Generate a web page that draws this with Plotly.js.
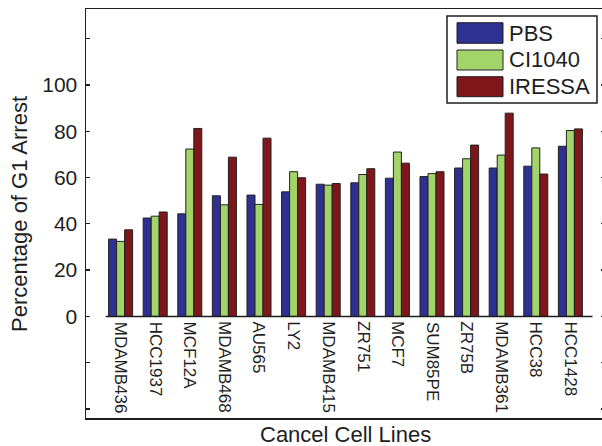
<!DOCTYPE html>
<html>
<head>
<meta charset="utf-8">
<script src="https://cdn.plot.ly/plotly-3.0.1.min.js"></script>
<style>
html, body { margin: 0; padding: 0; overflow: hidden; background: #fff; }
#chart { width: 606px; height: 446px; }
</style>
</head>
<body>
<div id="chart"></div>
<script>
// ---- data ----
var cellLines = ["MDAMB436", "HCC1937", "MCF12A", "MDAMB468", "AU565", "LY2", "MDAMB415",
                 "ZR751", "MCF7", "SUM85PE", "ZR75B", "MDAMB361", "HCC38", "HCC1428"];
var seriesNames = ["PBS", "CI1040", "IRESSA"];
var pbs    = [33.4, 42.5, 44.3, 52.1, 52.4, 53.8, 57.1, 57.7, 59.7, 60.4, 64.1, 64.1, 64.9, 73.5];
var ci1040 = [32.4, 43.3, 72.3, 48.2, 48.4, 62.5, 56.7, 61.3, 71.0, 61.7, 68.1, 69.7, 72.8, 80.3];
var iressa = [37.4, 45.1, 81.2, 68.8, 77.0, 59.9, 57.4, 63.8, 66.2, 62.5, 74.0, 87.8, 61.5, 81.0];
var yTickVals = [-40, -20, 0, 20, 40, 60, 80, 100, 120];
var yTickText = ["", "", "0", "20", "40", "60", "80", "100", ""];
var yTitle = "Percentage of G1 Arrest";
var xTitle = "Cancel Cell Lines";

// ---- styling ----
var colors = ["#2E3192", "#A3D46A", "#7F1619"];
var values = [pbs, ci1040, iressa];
var FONT = "Liberation Sans, Arial, Helvetica, sans-serif";
var INK = "#1e1e1e";

// geometry helpers (pixel -> paper) for the layout
var W = 606, H = 446;
var mL = 86, mR = 1, mT = 9, mB = 28;
var plotW = W - mL - mR, plotH = H - mT - mB;
function px(x) { return (x - mL) / plotW; }
function py(y) { return (H - mB - y) / plotH; }

var idx = cellLines.map(function (_, i) { return i; });

var traces = values.map(function (v, k) {
  return {
    type: "bar",
    x: idx,
    y: v,
    name: seriesNames[k],
    marker: { color: colors[k], line: { color: "#222", width: 1 } },
    showlegend: false,
    hoverinfo: "x+y"
  };
});

var annotations = cellLines.map(function (name, i) {
  return {
    x: i, y: 0, xref: "x", yref: "y",
    text: name, showarrow: false,
    textangle: 90, xanchor: "center", yanchor: "top", yshift: -3,
    font: { family: FONT, size: 17, color: INK }
  };
});
annotations.push({
  x: 0.5, y: 0, xref: "paper", yref: "paper", text: xTitle, showarrow: false,
  xanchor: "center", yanchor: "top", yshift: -2,
  font: { family: FONT, size: 22, color: INK }
});
annotations.push({
  x: px(20), y: py(214), xref: "paper", yref: "paper", text: yTitle, showarrow: false,
  textangle: -90, xanchor: "center", yanchor: "middle",
  font: { family: FONT, size: 22, color: INK }
});

var shapes = [];
// baseline at zero
shapes.push({ type: "line", xref: "x", yref: "y", x0: -0.43, x1: 13.64, y0: 0, y1: 0,
  line: { color: INK, width: 1.5 } });
// legend box
shapes.push({ type: "rect", xref: "paper", yref: "paper",
  x0: px(447), x1: px(597), y0: py(103), y1: py(16),
  fillcolor: "#fff", line: { color: INK, width: 1.5 }, layer: "above" });
var patchY = [[22.7, 43.3], [50, 70], [76.7, 96.7]];
seriesNames.forEach(function (n, k) {
  shapes.push({ type: "rect", xref: "paper", yref: "paper",
    x0: px(457), x1: px(503), y0: py(patchY[k][1]), y1: py(patchY[k][0]),
    fillcolor: colors[k], line: { color: "#222", width: 1 }, layer: "above" });
  annotations.push({
    x: px(507), y: py((patchY[k][0] + patchY[k][1]) / 2), xref: "paper", yref: "paper",
    text: n, showarrow: false, xanchor: "left", yanchor: "middle",
    font: { family: FONT, size: 22, color: INK }
  });
});

var layout = {
  width: W, height: H,
  margin: { l: mL, r: mR, t: mT, b: mB, pad: 0 },
  paper_bgcolor: "#fff", plot_bgcolor: "#fff",
  barmode: "group", bargap: 0.306, bargroupgap: 0,
  showlegend: false,
  font: { family: FONT, color: INK },
  xaxis: {
    range: [-1, 14], showgrid: false, zeroline: false,
    showline: true, mirror: true, linecolor: INK, linewidth: 1.5,
    ticks: "", showticklabels: false, fixedrange: true
  },
  yaxis: {
    range: [-43.9, 132.8], showgrid: false, zeroline: false,
    showline: true, mirror: "ticks", linecolor: INK, linewidth: 1.5,
    tickmode: "array", tickvals: yTickVals, ticktext: yTickText,
    ticks: "inside", ticklen: 4, tickwidth: 1.2, tickcolor: INK,
    tickfont: { family: FONT, size: 21, color: INK },
    ticklabelstandoff: 3,
    fixedrange: true
  },
  annotations: annotations,
  shapes: shapes
};

Plotly.newPlot("chart", traces, layout, { displayModeBar: false, staticPlot: true });
</script>
</body>
</html>
